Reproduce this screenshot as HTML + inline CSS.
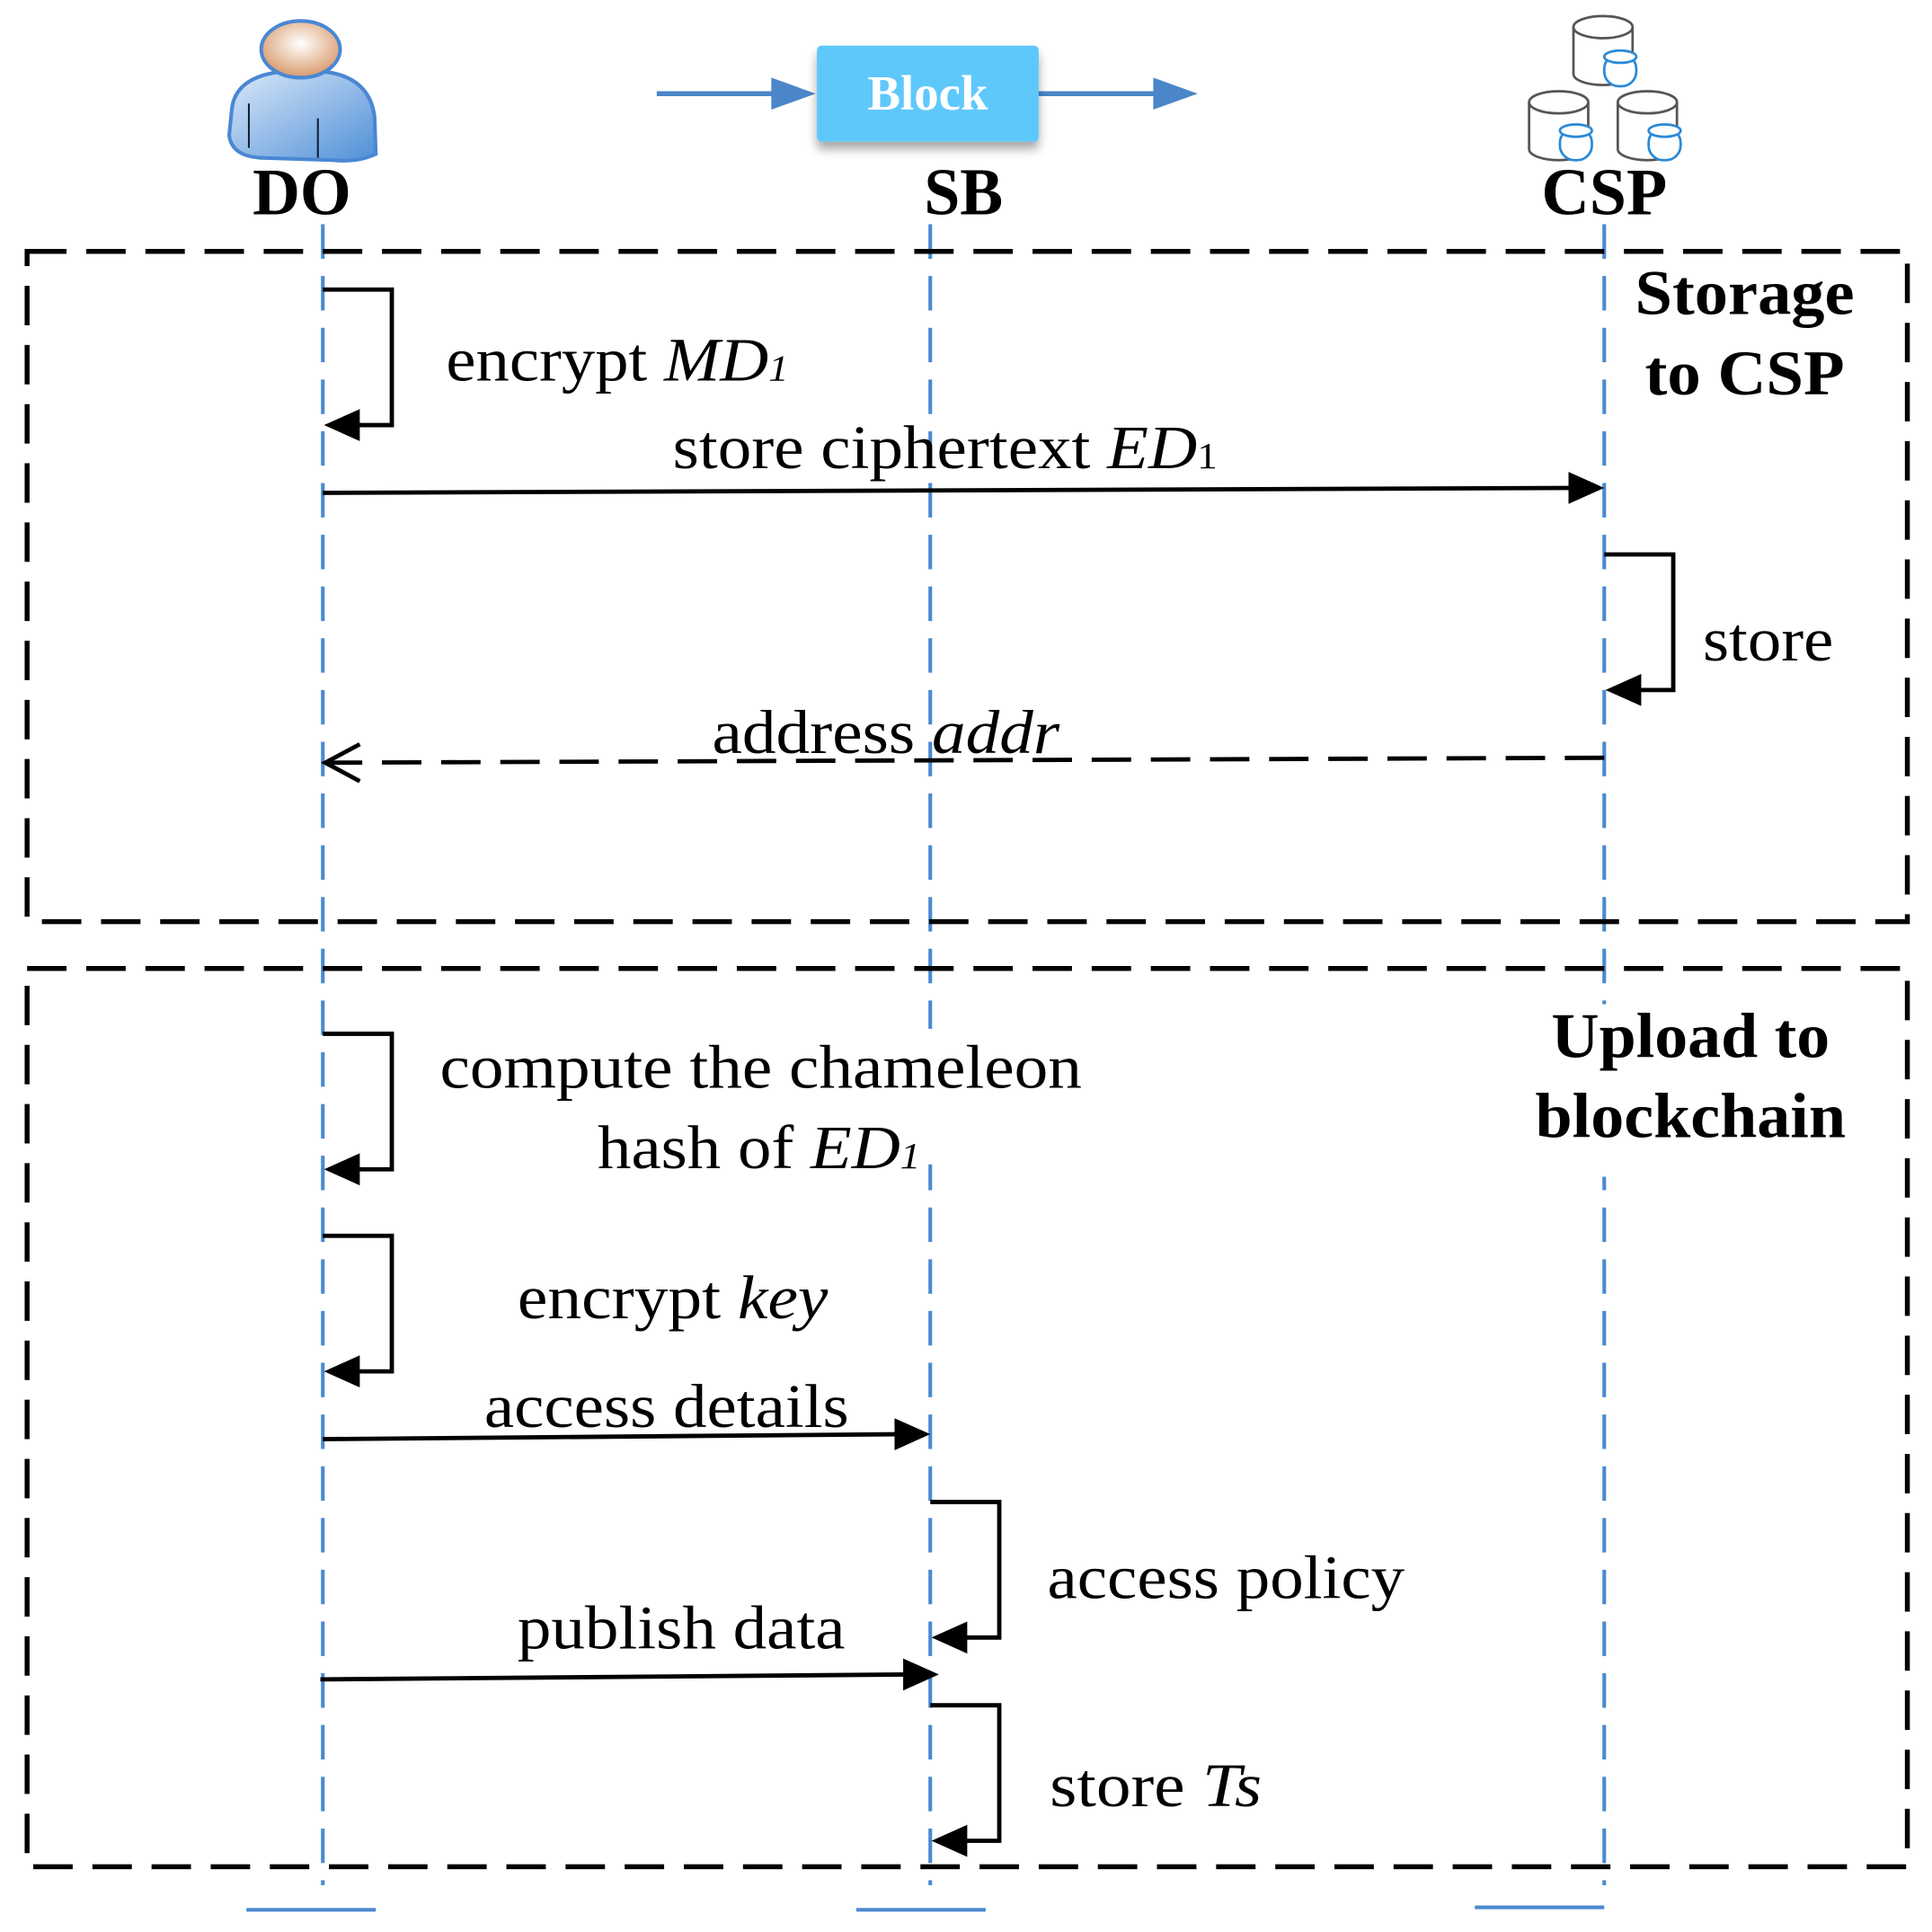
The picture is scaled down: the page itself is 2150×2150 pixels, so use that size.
<!DOCTYPE html>
<html><head><meta charset="utf-8"><style>html,body{margin:0;padding:0;background:#fff}svg{display:block}</style></head>
<body>
<svg width="2150" height="2150" viewBox="0 0 1568 1568" xmlns="http://www.w3.org/2000/svg" font-family="'Liberation Serif', serif">
<defs>
<linearGradient id="body" x1="0" y1="0" x2="1" y2="1"><stop offset="0" stop-color="#dbe9f8"/><stop offset="1" stop-color="#4f8fd8"/></linearGradient>
<radialGradient id="head" cx="0.5" cy="0.4" r="0.6"><stop offset="0" stop-color="#fff"/><stop offset="1" stop-color="#d99a6a"/></radialGradient>
<filter id="sh" x="-20%" y="-20%" width="140%" height="160%"><feDropShadow dx="0" dy="6" stdDeviation="4" flood-color="#000" flood-opacity="0.35"/></filter>
</defs>
<path d="M188 90 Q190 62 230 58 L262 58 Q300 62 304 95 L305 125 Q290 132 270 130 L210 128 Q188 126 186 110 Z" fill="url(#body)" stroke="#4a87d4" stroke-width="3"/>
<ellipse cx="244" cy="40" rx="32" ry="23" fill="url(#head)" stroke="#4a87d4" stroke-width="3"/>
<line x1="202" y1="84" x2="202" y2="120" stroke="#123" stroke-width="1.5"/>
<line x1="258" y1="96" x2="258" y2="128" stroke="#123" stroke-width="1.5"/>
<line x1="533" y1="76" x2="630" y2="76" stroke="#4a86c8" stroke-width="4"/>
<polygon points="626,63 662,76 626,89" fill="#4a86c8"/>
<line x1="842" y1="76" x2="940" y2="76" stroke="#4a86c8" stroke-width="4"/>
<polygon points="936,63 972,76 936,89" fill="#4a86c8"/>
<rect x="663" y="37" width="180" height="78" rx="4" fill="#5ec8fb" filter="url(#sh)"/>
<text x="753" y="89" text-anchor="middle" font-size="40" font-weight="bold" fill="#fff">Block</text>
<g fill="#fff" stroke="#555" stroke-width="2">
<path d="M1277 22 v38 a24 9 0 0 0 48 0 v-38"/><ellipse cx="1301" cy="22" rx="24" ry="9"/>
<path d="M1241 83 v38 a24 9 0 0 0 48 0 v-38"/><ellipse cx="1265" cy="83" rx="24" ry="9"/>
<path d="M1313 83 v38 a24 9 0 0 0 48 0 v-38"/><ellipse cx="1337" cy="83" rx="24" ry="9"/>
</g>
<g fill="#fff" stroke="#2a8ad8" stroke-width="2">
<rect x="1302" y="44" width="26" height="26" rx="12"/><ellipse cx="1315" cy="46" rx="13" ry="5"/>
<rect x="1266" y="104" width="26" height="26" rx="12"/><ellipse cx="1279" cy="106" rx="13" ry="5"/>
<rect x="1338" y="104" width="26" height="26" rx="12"/><ellipse cx="1351" cy="106" rx="13" ry="5"/>
</g>
<g font-weight="bold" font-size="54" text-anchor="middle">
<text x="245" y="174" textLength="80" lengthAdjust="spacingAndGlyphs">DO</text>
<text x="782" y="174" textLength="64" lengthAdjust="spacingAndGlyphs">SB</text>
<text x="1302" y="174" textLength="102" lengthAdjust="spacingAndGlyphs">CSP</text>
</g>
<g stroke="#4a8ad0" stroke-width="3" stroke-dasharray="28,14">
<line x1="262" y1="182" x2="262" y2="1530"/>
<line x1="755" y1="182" x2="755" y2="1530"/>
<line x1="1302" y1="182" x2="1302" y2="1530"/>
</g>
<g stroke="#4a8ad0" stroke-width="3">
<line x1="200" y1="1550" x2="305" y2="1550"/>
<line x1="695" y1="1550" x2="800" y2="1550"/>
<line x1="1197" y1="1548" x2="1302" y2="1548"/>
</g>
<!-- masks behind some labels -->
<rect x="740" y="835" width="30" height="110" fill="#fff"/>
<rect x="1285" y="815" width="34" height="140" fill="#fff"/>
<g fill="none" stroke="#000" stroke-width="4" stroke-dasharray="32,16">
<rect x="22" y="204" width="1526" height="544"/>
<rect x="22" y="786" width="1526" height="729"/>
</g>
<g font-weight="bold" font-size="52" text-anchor="middle">
<text x="1416" y="255" textLength="178" lengthAdjust="spacingAndGlyphs">Storage</text>
<text x="1416" y="320" textLength="162" lengthAdjust="spacingAndGlyphs">to CSP</text>
<text x="1372" y="858" textLength="226" lengthAdjust="spacingAndGlyphs">Upload to</text>
<text x="1372" y="923" textLength="252" lengthAdjust="spacingAndGlyphs">blockchain</text>
</g>
<g fill="none" stroke="#000" stroke-width="3.5">
<path d="M262 235 H318 V345 H290"/>
<path d="M1302 450 H1358 V560 H1330"/>
<path d="M262 839 H318 V949 H290"/>
<path d="M262 1003 H318 V1113 H290"/>
<path d="M755 1219 H811 V1329 H783"/>
<path d="M755 1384 H811 V1494 H783"/>
</g>
<g fill="#000">
<polygon points="263,345 292,332 292,358"/>
<polygon points="1303,560 1332,547 1332,573"/>
<polygon points="263,949 292,936 292,962"/>
<polygon points="263,1113 292,1100 292,1126"/>
<polygon points="756,1329 785,1316 785,1342"/>
<polygon points="756,1494 785,1481 785,1507"/>
</g>
<g stroke="#000" stroke-width="3.5" fill="none">
<line x1="262" y1="400" x2="1275" y2="396"/>
<line x1="262" y1="1168" x2="728" y2="1164"/>
<line x1="260" y1="1363" x2="735" y2="1359"/>
<line x1="1302" y1="615" x2="268" y2="619" stroke-dasharray="32,16"/>
<polyline points="292,604 264,619 292,634"/>
</g>
<g fill="#000">
<polygon points="1302,396 1273,383 1273,409"/>
<polygon points="755,1164 726,1151 726,1177"/>
<polygon points="762,1359 733,1346 733,1372"/>
</g>
<g font-size="50">
<text x="362" y="309" textLength="278" lengthAdjust="spacingAndGlyphs">encrypt <tspan font-style="italic">MD<tspan font-size="30">1</tspan></tspan></text>
<text x="546" y="380" textLength="442" lengthAdjust="spacingAndGlyphs">store ciphertext <tspan font-style="italic">ED</tspan><tspan font-size="30">1</tspan></text>
<text x="1382" y="536" textLength="106" lengthAdjust="spacingAndGlyphs">store</text>
<text x="578" y="611" textLength="282" lengthAdjust="spacingAndGlyphs">address <tspan font-style="italic">addr</tspan></text>
<text x="357" y="883" textLength="521" lengthAdjust="spacingAndGlyphs">compute the chameleon</text>
<text x="485" y="948" textLength="262" lengthAdjust="spacingAndGlyphs">hash of <tspan font-style="italic">ED<tspan font-size="30">1</tspan></tspan></text>
<text x="420" y="1070" textLength="252" lengthAdjust="spacingAndGlyphs">encrypt <tspan font-style="italic">key</tspan></text>
<text x="393" y="1158" textLength="296" lengthAdjust="spacingAndGlyphs">access details</text>
<text x="850" y="1297" textLength="290" lengthAdjust="spacingAndGlyphs">access policy</text>
<text x="420" y="1338" textLength="266" lengthAdjust="spacingAndGlyphs">publish data</text>
<text x="852" y="1466" textLength="172" lengthAdjust="spacingAndGlyphs">store <tspan font-style="italic">Ts</tspan></text>
</g>
</svg>
</body></html>
